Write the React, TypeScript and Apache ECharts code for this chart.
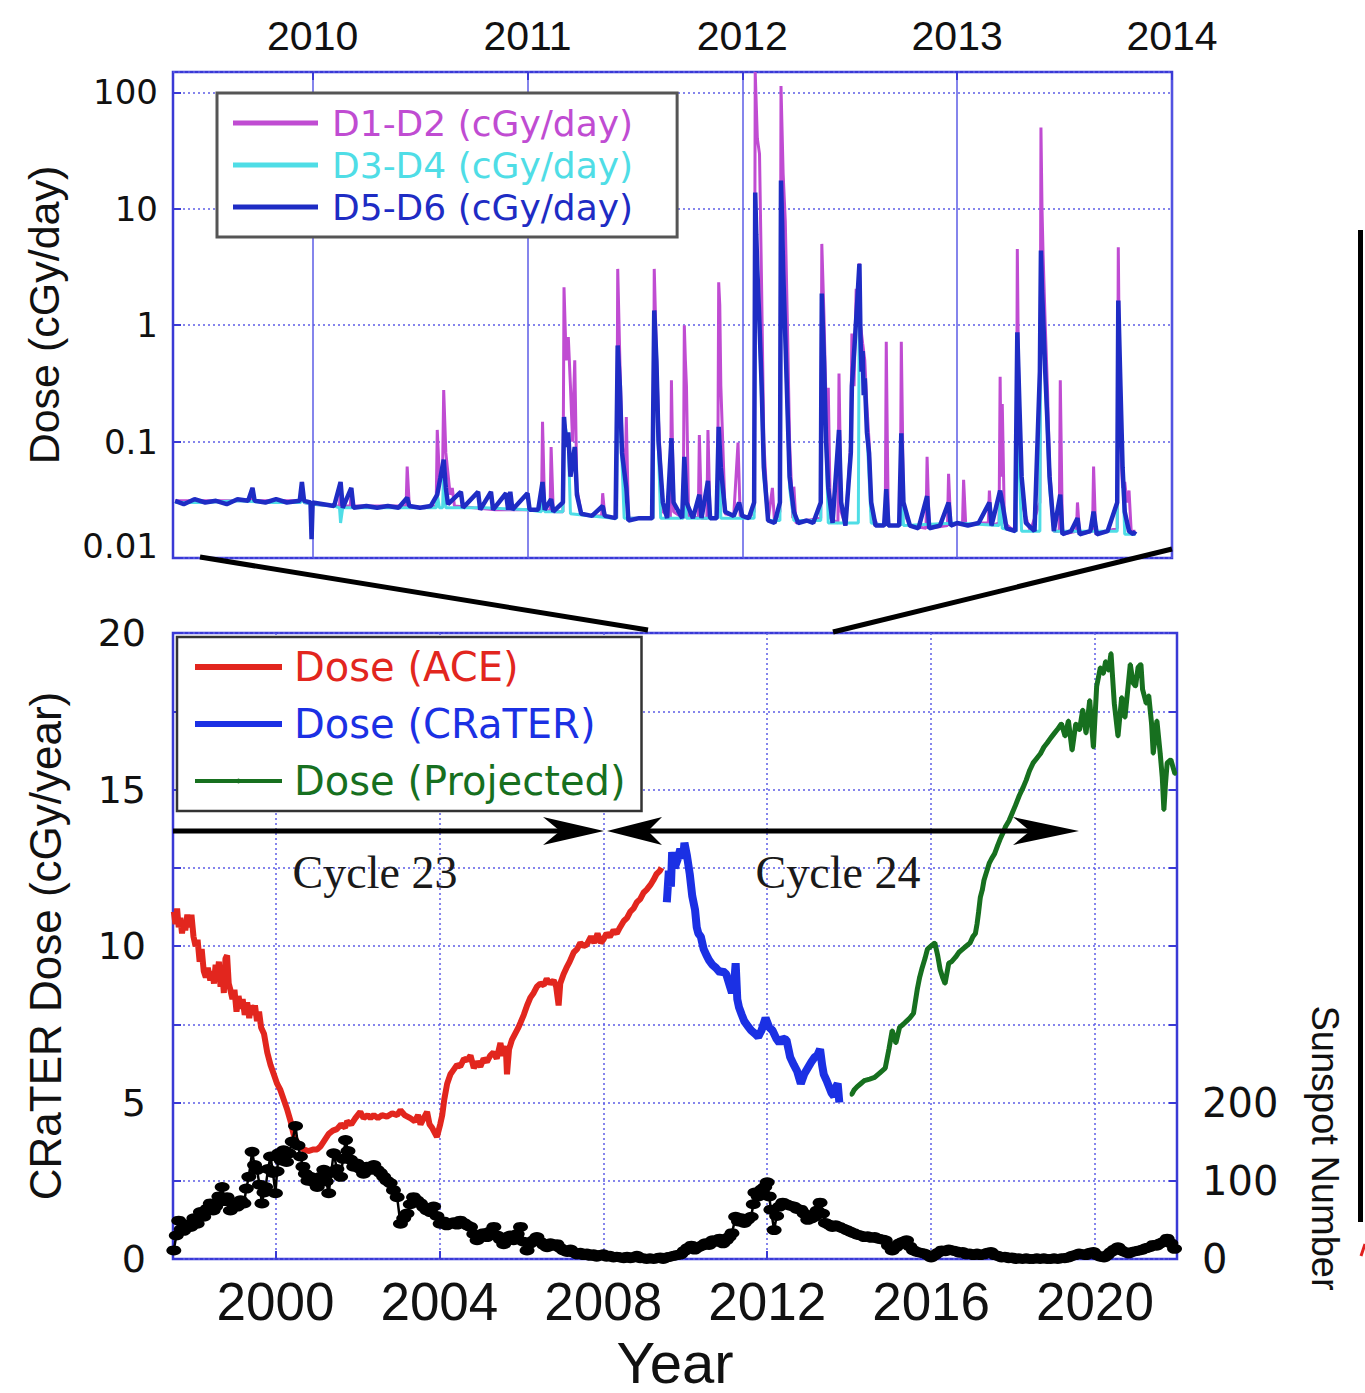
import React, { useEffect, useRef } from 'react';
import * as echarts from 'echarts';

// ---------- tick labels ----------
const topYearTicks = [2010, 2011, 2012, 2013, 2014];
const bottomYearTicks = [2000, 2004, 2008, 2012, 2016, 2020];

// ---------- top panel: daily dose (cGy/day), [decimal year, value] ----------
const d12: [number, number][] = [
  [2009.36, 0.031], [2009.45, 0.031], [2009.55, 0.031], [2009.65, 0.031], [2009.715, 0.031], [2009.72, 0.04], [2009.73, 0.031], [2009.8, 0.031], [2009.9, 0.031], [2009.945, 0.031], [2009.95, 0.045], [2009.96, 0.03],
  [2010.0, 0.029], [2010.1, 0.028], [2010.125, 0.028], [2010.13, 0.042], [2010.14, 0.028], [2010.175, 0.028], [2010.18, 0.038], [2010.19, 0.028], [2010.25, 0.028], [2010.35, 0.028],
  [2010.435, 0.028], [2010.44, 0.061], [2010.45, 0.028], [2010.52, 0.027], [2010.575, 0.028], [2010.58, 0.126], [2010.59, 0.05], [2010.605, 0.06], [2010.61, 0.277], [2010.62, 0.08], [2010.64, 0.035], [2010.65, 0.04], [2010.66, 0.028],
  [2010.75, 0.027], [2010.85, 0.026], [2010.95, 0.026], [2011.0, 0.026], [2011.065, 0.026], [2011.07, 0.148], [2011.08, 0.026], [2011.105, 0.025], [2011.11, 0.09], [2011.12, 0.025],
  [2011.165, 0.025], [2011.17, 2.12], [2011.18, 0.5], [2011.19, 0.79], [2011.2, 0.3], [2011.21, 0.1], [2011.215, 0.25], [2011.22, 0.5], [2011.23, 0.04], [2011.25, 0.024], [2011.3, 0.023],
  [2011.345, 0.023], [2011.35, 0.036], [2011.36, 0.023], [2011.415, 0.022], [2011.42, 3.05], [2011.43, 0.5], [2011.44, 0.1], [2011.455, 0.05], [2011.46, 0.163], [2011.47, 0.022], [2011.52, 0.022],
  [2011.585, 0.022], [2011.59, 3.05], [2011.6, 0.6], [2011.61, 0.15], [2011.63, 0.025], [2011.665, 0.022], [2011.67, 0.337], [2011.68, 0.025], [2011.725, 0.022], [2011.73, 1.0], [2011.735, 0.5], [2011.74, 0.3], [2011.75, 0.023],
  [2011.795, 0.022], [2011.8, 0.114], [2011.81, 0.022], [2011.835, 0.022], [2011.84, 0.126], [2011.85, 0.022], [2011.885, 0.022], [2011.89, 2.34], [2011.895, 1.5], [2011.9, 0.3], [2011.92, 0.024], [2011.96, 0.023],
  [2011.98, 0.098], [2011.99, 0.023], [2012.03, 0.022], [2012.055, 0.025], [2012.06, 150], [2012.07, 40], [2012.08, 29.7], [2012.09, 2], [2012.1, 0.1], [2012.12, 0.021], [2012.14, 0.04], [2012.15, 0.02],
  [2012.175, 0.025], [2012.18, 113.6], [2012.19, 20], [2012.2, 7.9], [2012.21, 1], [2012.22, 0.1], [2012.235, 0.022], [2012.24, 0.041], [2012.25, 0.02], [2012.3, 0.021],
  [2012.365, 0.022], [2012.37, 5.0], [2012.38, 1.2], [2012.39, 0.2], [2012.395, 0.1], [2012.4, 0.29], [2012.41, 0.022], [2012.445, 0.02], [2012.45, 0.385], [2012.46, 0.025], [2012.48, 0.019],
  [2012.505, 0.1], [2012.51, 0.85], [2012.52, 0.3], [2012.53, 2.06], [2012.54, 1.5], [2012.545, 3.4], [2012.55, 1.0], [2012.56, 0.7], [2012.57, 0.5], [2012.58, 0.2], [2012.59, 0.1], [2012.6, 0.025], [2012.63, 0.019],
  [2012.665, 0.019], [2012.67, 0.72], [2012.675, 0.1], [2012.68, 0.019], [2012.735, 0.019], [2012.74, 0.72], [2012.745, 0.15], [2012.75, 0.025], [2012.78, 0.019], [2012.855, 0.018], [2012.86, 0.074], [2012.87, 0.018],
  [2012.955, 0.019], [2012.96, 0.053], [2012.97, 0.019], [2013.025, 0.02], [2013.03, 0.047], [2013.04, 0.019], [2013.1, 0.02], [2013.145, 0.02], [2013.15, 0.038], [2013.16, 0.019],
  [2013.195, 0.02], [2013.2, 0.36], [2013.205, 0.05], [2013.21, 0.21], [2013.22, 0.02], [2013.25, 0.018], [2013.275, 0.017], [2013.28, 4.53], [2013.285, 0.5], [2013.29, 0.17], [2013.3, 0.03], [2013.34, 0.017],
  [2013.385, 0.03], [2013.39, 49.9], [2013.395, 10], [2013.4, 4.0], [2013.41, 1.0], [2013.42, 0.3], [2013.43, 0.06], [2013.45, 0.017], [2013.475, 0.017], [2013.48, 0.337], [2013.49, 0.016],
  [2013.555, 0.017], [2013.56, 0.03], [2013.57, 0.016], [2013.63, 0.017], [2013.635, 0.061], [2013.645, 0.016], [2013.7, 0.017], [2013.745, 0.018], [2013.75, 4.68], [2013.755, 0.5], [2013.76, 0.1],
  [2013.77, 0.04], [2013.78, 0.045], [2013.79, 0.03], [2013.8, 0.038], [2013.81, 0.017], [2013.83, 0.017],
];

const d34: [number, number][] = [
  [2009.36, 0.03], [2009.5, 0.03], [2009.65, 0.031], [2009.8, 0.03], [2009.945, 0.03], [2009.95, 0.04], [2009.96, 0.03], [2010.0, 0.029], [2010.1, 0.028], [2010.125, 0.027], [2010.13, 0.02], [2010.14, 0.027],
  [2010.3, 0.027], [2010.575, 0.027], [2010.58, 0.035], [2010.59, 0.027], [2010.605, 0.027], [2010.61, 0.06], [2010.62, 0.027], [2010.8, 0.027], [2011.0, 0.026], [2011.065, 0.025], [2011.07, 0.04], [2011.08, 0.025],
  [2011.165, 0.025], [2011.17, 0.15], [2011.19, 0.1], [2011.2, 0.024], [2011.3, 0.023], [2011.4, 0.022], [2011.415, 0.022], [2011.42, 0.6], [2011.43, 0.2], [2011.45, 0.022], [2011.585, 0.022], [2011.59, 1.2], [2011.6, 0.3],
  [2011.62, 0.022], [2011.725, 0.022], [2011.73, 0.07], [2011.74, 0.022], [2011.885, 0.022], [2011.89, 0.12], [2011.9, 0.022], [2012.055, 0.022], [2012.06, 12], [2012.07, 2.5], [2012.08, 0.9], [2012.1, 0.05], [2012.12, 0.021],
  [2012.175, 0.021], [2012.18, 15], [2012.19, 2.5], [2012.2, 0.7], [2012.22, 0.04], [2012.24, 0.021], [2012.365, 0.021], [2012.37, 1.7], [2012.38, 0.4], [2012.4, 0.02], [2012.54, 0.02], [2012.545, 3.0],
  [2012.55, 0.7], [2012.57, 0.3], [2012.6, 0.02], [2012.665, 0.019], [2012.67, 0.035], [2012.68, 0.019], [2012.735, 0.019], [2012.74, 0.1], [2012.75, 0.019], [2013.0, 0.02], [2013.195, 0.019], [2013.2, 0.035],
  [2013.21, 0.018], [2013.275, 0.017], [2013.28, 0.8], [2013.29, 0.05], [2013.3, 0.017], [2013.385, 0.017], [2013.39, 4.0], [2013.4, 1.0], [2013.41, 0.35], [2013.43, 0.04], [2013.45, 0.017], [2013.6, 0.017],
  [2013.745, 0.017], [2013.75, 1.5], [2013.76, 0.2], [2013.78, 0.016], [2013.83, 0.016],
];

const d56: [number, number][] = [
  [2009.36, 0.031], [2009.4, 0.029], [2009.45, 0.032], [2009.5, 0.03], [2009.55, 0.031], [2009.6, 0.029], [2009.65, 0.032], [2009.7, 0.031], [2009.72, 0.04], [2009.73, 0.031], [2009.78, 0.03], [2009.83, 0.032],
  [2009.88, 0.03], [2009.94, 0.031], [2009.95, 0.045], [2009.96, 0.031], [2009.99, 0.03], [2009.995, 0.0145], [2010.0, 0.03], [2010.05, 0.029], [2010.1, 0.028], [2010.13, 0.045], [2010.14, 0.027],
  [2010.18, 0.04], [2010.19, 0.027], [2010.25, 0.028], [2010.3, 0.027], [2010.35, 0.028], [2010.4, 0.027], [2010.44, 0.033], [2010.45, 0.028], [2010.5, 0.027], [2010.55, 0.028], [2010.58, 0.035],
  [2010.61, 0.07], [2010.62, 0.04], [2010.63, 0.029], [2010.69, 0.037], [2010.7, 0.027], [2010.77, 0.037], [2010.78, 0.026], [2010.83, 0.037], [2010.84, 0.026], [2010.9, 0.036], [2010.91, 0.026],
  [2010.92, 0.037], [2010.93, 0.026], [2011.0, 0.036], [2011.01, 0.026], [2011.05, 0.026], [2011.07, 0.045], [2011.08, 0.026], [2011.11, 0.032], [2011.12, 0.025], [2011.165, 0.03], [2011.17, 0.163],
  [2011.18, 0.09], [2011.19, 0.12], [2011.2, 0.05], [2011.22, 0.09], [2011.23, 0.035], [2011.25, 0.024], [2011.3, 0.023], [2011.35, 0.028], [2011.36, 0.023], [2011.41, 0.022], [2011.42, 0.67],
  [2011.43, 0.3], [2011.44, 0.08], [2011.46, 0.04], [2011.47, 0.021], [2011.52, 0.022], [2011.58, 0.022], [2011.59, 1.34], [2011.6, 0.5], [2011.61, 0.1], [2011.63, 0.03], [2011.65, 0.022],
  [2011.67, 0.107], [2011.68, 0.03], [2011.72, 0.022], [2011.73, 0.074], [2011.74, 0.03], [2011.77, 0.022], [2011.8, 0.035], [2011.81, 0.022], [2011.84, 0.046], [2011.85, 0.022], [2011.88, 0.022],
  [2011.89, 0.134], [2011.9, 0.06], [2011.92, 0.025], [2011.96, 0.023], [2011.985, 0.03], [2012.0, 0.023], [2012.03, 0.022], [2012.055, 0.03], [2012.06, 13.8], [2012.065, 6], [2012.07, 3.0],
  [2012.08, 1.0], [2012.09, 0.3], [2012.1, 0.06], [2012.12, 0.021], [2012.15, 0.02], [2012.175, 0.03], [2012.18, 17.5], [2012.185, 8], [2012.19, 3.0], [2012.2, 0.8], [2012.21, 0.2], [2012.22, 0.05],
  [2012.24, 0.025], [2012.26, 0.02], [2012.3, 0.021], [2012.33, 0.02], [2012.365, 0.03], [2012.37, 1.87], [2012.38, 0.5], [2012.39, 0.1], [2012.4, 0.04], [2012.42, 0.02], [2012.45, 0.126],
  [2012.46, 0.03], [2012.48, 0.019], [2012.505, 0.08], [2012.51, 0.3], [2012.525, 0.8], [2012.535, 1.6], [2012.545, 3.37], [2012.55, 0.8], [2012.555, 0.4], [2012.56, 0.6], [2012.565, 0.25],
  [2012.57, 0.35], [2012.58, 0.12], [2012.59, 0.08], [2012.6, 0.03], [2012.62, 0.019], [2012.66, 0.019], [2012.67, 0.039], [2012.68, 0.019], [2012.73, 0.019], [2012.74, 0.118], [2012.75, 0.03],
  [2012.78, 0.019], [2012.82, 0.018], [2012.86, 0.034], [2012.87, 0.018], [2012.92, 0.019], [2012.96, 0.03], [2012.97, 0.019], [2013.0, 0.02], [2013.05, 0.019], [2013.1, 0.02], [2013.15, 0.03],
  [2013.16, 0.019], [2013.2, 0.038], [2013.21, 0.03], [2013.23, 0.018], [2013.27, 0.017], [2013.28, 0.87], [2013.29, 0.2], [2013.3, 0.05], [2013.32, 0.02], [2013.36, 0.017], [2013.385, 0.4],
  [2013.39, 4.38], [2013.395, 2.0], [2013.4, 1.2], [2013.41, 0.4], [2013.42, 0.15], [2013.43, 0.05], [2013.45, 0.017], [2013.48, 0.035], [2013.49, 0.016], [2013.53, 0.017], [2013.56, 0.022],
  [2013.57, 0.016], [2013.62, 0.017], [2013.635, 0.025], [2013.65, 0.016], [2013.7, 0.017], [2013.745, 0.03], [2013.75, 1.63], [2013.76, 0.3], [2013.77, 0.06], [2013.78, 0.025], [2013.8, 0.017],
  [2013.82, 0.016], [2013.83, 0.017],
];

// ---------- bottom panel: yearly dose (cGy/year) ----------
const aceDose: [number, number][] = [
  [1997.52, 11.1], [1997.56, 10.7], [1997.6, 11.2], [1997.64, 10.6], [1997.68, 10.9], [1997.72, 10.4], [1997.76, 10.8], [1997.8, 10.5], [1997.85, 11.0], [1997.9, 10.6], [1997.95, 11.0], [1998.0, 10.3],
  [1998.05, 10.0], [1998.1, 10.2], [1998.15, 9.5], [1998.2, 9.9], [1998.25, 9.2], [1998.3, 9.0], [1998.35, 9.3], [1998.41, 8.9], [1998.46, 9.2], [1998.5, 8.8], [1998.54, 9.4], [1998.58, 9.0],
  [1998.62, 9.5], [1998.66, 8.7], [1998.7, 9.3], [1998.74, 8.5], [1998.78, 9.6], [1998.82, 9.7], [1998.86, 8.8], [1998.9, 8.6], [1998.95, 8.3], [1999.0, 8.6], [1999.05, 7.9], [1999.1, 8.4],
  [1999.15, 8.0], [1999.2, 8.3], [1999.25, 7.8], [1999.31, 8.2], [1999.36, 7.7], [1999.4, 8.1], [1999.45, 7.8], [1999.5, 8.1], [1999.55, 7.6], [1999.6, 7.9], [1999.65, 7.4], [1999.72, 7.2],
  [1999.8, 6.6], [1999.88, 6.2], [1999.96, 5.9], [2000.04, 5.6], [2000.12, 5.4], [2000.2, 5.1], [2000.28, 4.8], [2000.37, 4.4], [2000.44, 4.0], [2000.5, 3.8], [2000.58, 3.6], [2000.69, 3.5],
  [2000.8, 3.45], [2000.93, 3.5], [2001.02, 3.5], [2001.1, 3.6], [2001.2, 3.8], [2001.3, 4.0], [2001.4, 4.1], [2001.5, 4.15], [2001.6, 4.3], [2001.7, 4.2], [2001.75, 4.4], [2001.85, 4.3],
  [2001.95, 4.5], [2002.07, 4.7], [2002.15, 4.5], [2002.25, 4.6], [2002.32, 4.5], [2002.4, 4.6], [2002.5, 4.5], [2002.6, 4.6], [2002.72, 4.55], [2002.85, 4.65], [2002.97, 4.6], [2003.05, 4.75],
  [2003.15, 4.6], [2003.29, 4.5], [2003.4, 4.4], [2003.48, 4.6], [2003.54, 4.3], [2003.62, 4.5], [2003.7, 4.7], [2003.76, 4.3], [2003.82, 4.2], [2003.94, 3.9], [2004.02, 4.3], [2004.07, 4.6],
  [2004.12, 5.1], [2004.19, 5.6], [2004.27, 5.9], [2004.35, 6.05], [2004.43, 6.2], [2004.51, 6.15], [2004.6, 6.4], [2004.68, 6.35], [2004.76, 6.5], [2004.84, 6.1], [2004.92, 6.3], [2005.0, 6.15],
  [2005.08, 6.4], [2005.16, 6.3], [2005.24, 6.5], [2005.32, 6.6], [2005.4, 6.4], [2005.49, 6.9], [2005.55, 6.5], [2005.62, 6.8], [2005.65, 5.9], [2005.7, 6.7], [2005.77, 7.0], [2005.85, 7.2],
  [2005.93, 7.4], [2005.98, 7.55], [2006.06, 7.8], [2006.14, 8.1], [2006.22, 8.35], [2006.3, 8.5], [2006.38, 8.7], [2006.46, 8.8], [2006.55, 8.75], [2006.62, 8.95], [2006.7, 8.8], [2006.79, 8.9],
  [2006.85, 8.7], [2006.91, 8.1], [2006.95, 8.8], [2007.03, 9.1], [2007.1, 9.3], [2007.18, 9.5], [2007.28, 9.8], [2007.36, 9.9], [2007.44, 10.1], [2007.52, 10.0], [2007.6, 10.05], [2007.7, 10.3],
  [2007.78, 10.1], [2007.86, 10.4], [2007.94, 10.1], [2008.0, 10.2], [2008.08, 10.4], [2008.16, 10.3], [2008.25, 10.5], [2008.33, 10.4], [2008.41, 10.6], [2008.5, 10.8], [2008.58, 10.9],
  [2008.66, 11.1], [2008.74, 11.2], [2008.82, 11.4], [2008.9, 11.5], [2008.98, 11.7], [2009.06, 11.8], [2009.15, 11.95], [2009.22, 12.1], [2009.3, 12.3], [2009.38, 12.4], [2009.42, 12.5],
];

const craterDose: [number, number][] = [
  [2009.55, 11.4], [2009.6, 12.4], [2009.65, 11.9], [2009.68, 13.0], [2009.74, 12.5], [2009.81, 12.75], [2009.88, 13.1], [2009.95, 12.8], [2009.98, 13.3], [2010.04, 12.9], [2010.11, 12.3],
  [2010.17, 11.6], [2010.24, 11.15], [2010.28, 10.6], [2010.32, 10.4], [2010.38, 10.3], [2010.45, 9.9], [2010.52, 9.7], [2010.58, 9.55], [2010.66, 9.4], [2010.75, 9.3], [2010.85, 9.15],
  [2010.92, 9.2], [2011.0, 9.1], [2011.07, 8.8], [2011.14, 8.5], [2011.2, 8.9], [2011.23, 9.45], [2011.27, 8.3], [2011.31, 8.05], [2011.38, 7.8], [2011.44, 7.6], [2011.52, 7.45], [2011.61, 7.3],
  [2011.7, 7.2], [2011.78, 7.1], [2011.86, 7.3], [2011.96, 7.7], [2012.05, 7.4], [2012.13, 7.3], [2012.22, 7.05], [2012.3, 6.9], [2012.38, 7.05], [2012.47, 7.0], [2012.52, 6.7], [2012.56, 6.45],
  [2012.65, 6.2], [2012.73, 6.0], [2012.82, 5.6], [2012.9, 5.9], [2012.99, 6.1], [2013.08, 6.3], [2013.16, 6.45], [2013.22, 6.5], [2013.29, 6.7], [2013.34, 6.2], [2013.38, 5.9], [2013.45, 5.7],
  [2013.51, 5.5], [2013.57, 5.3], [2013.63, 5.2], [2013.68, 5.5], [2013.72, 5.6], [2013.76, 5.0],
];

const projectedDose: [number, number][] = [
  [2014.06, 5.25], [2014.12, 5.4], [2014.19, 5.5], [2014.28, 5.6], [2014.37, 5.7], [2014.5, 5.75], [2014.62, 5.8], [2014.75, 5.95], [2014.88, 6.1], [2014.97, 6.7], [2015.05, 7.3], [2015.14, 6.9],
  [2015.23, 7.4], [2015.32, 7.5], [2015.4, 7.6], [2015.48, 7.7], [2015.57, 7.85], [2015.66, 8.6], [2015.72, 9.0], [2015.78, 9.3], [2015.85, 9.6], [2015.91, 9.9], [2016.0, 10.0], [2016.09, 10.1],
  [2016.16, 9.7], [2016.22, 9.25], [2016.28, 9.0], [2016.34, 8.8], [2016.43, 9.45], [2016.5, 9.5], [2016.6, 9.65], [2016.68, 9.8], [2016.77, 9.9], [2016.86, 10.0], [2016.95, 10.1], [2017.02, 10.3],
  [2017.08, 10.4], [2017.12, 10.7], [2017.16, 11.1], [2017.2, 11.55], [2017.25, 11.8], [2017.29, 12.1], [2017.36, 12.4], [2017.42, 12.65], [2017.48, 12.8], [2017.55, 12.95], [2017.62, 13.2],
  [2017.68, 13.4], [2017.75, 13.6], [2017.81, 13.8], [2017.9, 14.0], [2017.98, 14.25], [2018.06, 14.5], [2018.15, 14.8], [2018.24, 15.05], [2018.32, 15.3], [2018.4, 15.6], [2018.49, 15.85],
  [2018.58, 16.0], [2018.67, 16.15], [2018.75, 16.35], [2018.84, 16.5], [2018.92, 16.65], [2019.01, 16.8], [2019.1, 16.95], [2019.18, 17.1], [2019.27, 16.7], [2019.35, 17.2], [2019.44, 16.25],
  [2019.53, 17.1], [2019.62, 16.9], [2019.7, 17.55], [2019.78, 16.8], [2019.87, 17.85], [2019.96, 16.35], [2020.04, 18.3], [2020.13, 18.9], [2020.2, 18.7], [2020.26, 19.1], [2020.33, 18.8],
  [2020.39, 19.35], [2020.47, 17.75], [2020.56, 16.7], [2020.65, 17.95], [2020.73, 17.3], [2020.8, 18.2], [2020.86, 19.0], [2020.93, 18.4], [2020.99, 18.3], [2021.05, 18.9], [2021.12, 19.0],
  [2021.16, 18.2], [2021.25, 17.75], [2021.31, 18.0], [2021.38, 17.1], [2021.42, 16.15], [2021.51, 17.2], [2021.59, 16.15], [2021.64, 15.4], [2021.68, 14.35], [2021.72, 15.2], [2021.76, 15.85],
  [2021.85, 15.95], [2021.95, 15.5],
];

const sunspotNumber: [number, number][] = [
  [1997.52, 11], [1997.58, 30], [1997.64, 49], [1997.7, 38], [1997.76, 36], [1997.85, 44], [1997.93, 41], [1998.01, 52], [1998.09, 45], [1998.17, 60], [1998.25, 54], [1998.33, 64], [1998.41, 71],
  [1998.48, 62], [1998.54, 67], [1998.62, 80], [1998.7, 92], [1998.76, 74], [1998.82, 79], [1998.9, 62], [1998.98, 70], [1999.07, 67], [1999.15, 75], [1999.23, 71], [1999.29, 90], [1999.35, 105],
  [1999.43, 137], [1999.49, 120], [1999.55, 114], [1999.61, 95], [1999.67, 71], [1999.72, 85], [1999.76, 92], [1999.82, 115], [1999.88, 131], [1999.94, 110], [2000.0, 84], [2000.04, 112],
  [2000.08, 135], [2000.14, 126], [2000.2, 139], [2000.27, 124], [2000.33, 135], [2000.41, 150], [2000.49, 170], [2000.55, 145], [2000.61, 131], [2000.67, 118], [2000.73, 109], [2000.79, 100],
  [2000.85, 105], [2000.94, 98], [2001.02, 92], [2001.1, 105], [2001.18, 114], [2001.24, 99], [2001.3, 84], [2001.36, 110], [2001.42, 135], [2001.5, 115], [2001.59, 105], [2001.65, 128],
  [2001.71, 152], [2001.77, 138], [2001.83, 127], [2001.91, 118], [2001.99, 122], [2002.07, 115], [2002.15, 109], [2002.23, 118], [2002.32, 114], [2002.4, 120], [2002.48, 114], [2002.56, 110],
  [2002.64, 105], [2002.72, 100], [2002.8, 97], [2002.88, 88], [2002.97, 79], [2003.05, 45], [2003.13, 52], [2003.21, 58], [2003.29, 70], [2003.37, 79], [2003.45, 75], [2003.54, 71], [2003.62, 66],
  [2003.7, 62], [2003.78, 60], [2003.86, 67], [2003.94, 55], [2004.02, 45], [2004.1, 48], [2004.18, 43], [2004.27, 45], [2004.35, 47], [2004.43, 44], [2004.51, 49], [2004.6, 46], [2004.68, 43],
  [2004.76, 41], [2004.84, 32], [2004.92, 24], [2005.0, 30], [2005.08, 33], [2005.16, 28], [2005.24, 35], [2005.33, 41], [2005.41, 30], [2005.49, 25], [2005.57, 19], [2005.65, 28], [2005.73, 30],
  [2005.81, 24], [2005.9, 32], [2005.98, 41], [2006.06, 22], [2006.14, 11], [2006.22, 20], [2006.3, 24], [2006.38, 28], [2006.46, 22], [2006.55, 18], [2006.63, 15], [2006.71, 20], [2006.79, 17],
  [2006.87, 19], [2006.95, 14], [2007.03, 11], [2007.12, 9], [2007.2, 12], [2007.28, 8], [2007.36, 6], [2007.44, 8], [2007.52, 5], [2007.6, 7], [2007.68, 4], [2007.76, 6], [2007.84, 3], [2007.92, 5],
  [2008.0, 6], [2008.08, 3], [2008.16, 4], [2008.25, 2], [2008.33, 3], [2008.41, 2], [2008.5, 1], [2008.58, 3], [2008.66, 1], [2008.74, 2], [2008.82, 4], [2008.9, 1], [2008.98, 1], [2009.06, 0],
  [2009.14, 1], [2009.23, 0], [2009.31, 1], [2009.39, 2], [2009.46, 0], [2009.55, 2], [2009.63, 3], [2009.72, 4], [2009.8, 5], [2009.89, 6], [2009.97, 10], [2010.06, 14], [2010.15, 17], [2010.23, 12],
  [2010.32, 15], [2010.41, 17], [2010.49, 20], [2010.58, 18], [2010.67, 24], [2010.75, 22], [2010.84, 26], [2010.92, 20], [2011.0, 24], [2011.07, 28], [2011.14, 33], [2011.23, 54], [2011.3, 48],
  [2011.37, 52], [2011.44, 46], [2011.52, 50], [2011.61, 54], [2011.66, 70], [2011.7, 85], [2011.78, 80], [2011.87, 89], [2011.94, 92], [2012.0, 98], [2012.05, 80], [2012.09, 63], [2012.17, 37],
  [2012.23, 55], [2012.3, 67], [2012.38, 72], [2012.47, 70], [2012.56, 68], [2012.65, 67], [2012.73, 64], [2012.82, 63], [2012.9, 58], [2012.99, 50], [2013.08, 52], [2013.16, 54], [2013.22, 62],
  [2013.29, 72], [2013.35, 58], [2013.42, 46], [2013.5, 44], [2013.59, 41], [2013.67, 43], [2013.76, 41], [2013.85, 39], [2013.94, 37], [2014.02, 35], [2014.11, 33], [2014.2, 31], [2014.28, 30],
  [2014.37, 28], [2014.45, 29], [2014.54, 27], [2014.62, 28], [2014.71, 26], [2014.8, 25], [2014.88, 24], [2014.96, 17], [2015.05, 11], [2015.14, 15], [2015.23, 20], [2015.31, 22], [2015.4, 24],
  [2015.48, 16], [2015.57, 11], [2015.66, 9], [2015.74, 8], [2015.83, 7], [2015.91, 5], [2016.0, 2], [2016.09, 5], [2016.17, 8], [2016.26, 11], [2016.35, 10], [2016.43, 12], [2016.52, 11],
  [2016.6, 10], [2016.69, 8], [2016.77, 9], [2016.86, 6], [2016.94, 7], [2017.03, 5], [2017.12, 7], [2017.2, 5], [2017.29, 6], [2017.37, 8], [2017.46, 9], [2017.55, 5], [2017.63, 4], [2017.72, 2],
  [2017.8, 3], [2017.89, 1], [2017.97, 2], [2018.06, 0], [2018.14, 1], [2018.23, 0], [2018.32, 1], [2018.4, 0], [2018.49, 0], [2018.58, 1], [2018.66, 0], [2018.75, 1], [2018.83, 0], [2018.92, 0],
  [2019.0, 1], [2019.09, 0], [2019.18, 1], [2019.26, 1], [2019.35, 2], [2019.44, 4], [2019.52, 5], [2019.61, 7], [2019.7, 6], [2019.78, 5], [2019.87, 8], [2019.96, 9], [2020.04, 5], [2020.13, 3],
  [2020.22, 2], [2020.3, 5], [2020.39, 9], [2020.47, 12], [2020.56, 15], [2020.64, 11], [2020.73, 9], [2020.82, 7], [2020.9, 9], [2020.99, 10], [2021.08, 11], [2021.16, 12], [2021.25, 14],
  [2021.33, 15], [2021.42, 18], [2021.5, 17], [2021.59, 20], [2021.68, 22], [2021.76, 26], [2021.85, 20], [2021.94, 13],
];

// ---------- styles ----------
const SANS = '"Liberation Sans", Arial, sans-serif';
const WIDE = '"DejaVu Sans", sans-serif';
const SERIF = '"Liberation Serif", "Times New Roman", serif';
const FRAME = '#3a3ad6';
const GRIDC = '#5d5de6';
const MAG = '#c04cd2';
const CYAN = '#4fdde6';
const DBLUE = '#1e2cc4';
const RED = '#e2261e';
const CBLUE = '#1b30e4';
const GREEN = '#17701f';
const TXT = '#111';

const dotted = { color: GRIDC, width: 1.5, type: [2, 3] as any };

export default function App() {
  const ref = useRef<HTMLDivElement>(null);
  useEffect(() => {
    document.body.style.margin = '0';
    const chart = echarts.init(ref.current!, null, { renderer: 'svg' });
    const option: any = {
      animation: false,
      backgroundColor: '#fff',
      grid: [
        { left: 173, top: 72, width: 999, height: 486, show: true, borderColor: FRAME, borderWidth: 2.5, outerBoundsMode: 'none' },
        { left: 173, top: 633, width: 1004, height: 626, show: true, borderColor: FRAME, borderWidth: 2.5, outerBoundsMode: 'none' },
      ],
      xAxis: [
        {
          type: 'value', gridIndex: 0, position: 'top', min: 2009.35, max: 2014.0,
          axisLine: { show: false },
          axisTick: { show: true, inside: true, length: 8, customValues: topYearTicks, lineStyle: { color: FRAME, width: 2 } },
          axisLabel: { customValues: topYearTicks, fontSize: 41, fontFamily: SANS, color: TXT, margin: 16, formatter: (v: number) => String(v) },
          splitLine: { show: true, lineStyle: { color: GRIDC, width: 1.5, type: 'solid' } },
        },
        {
          type: 'value', gridIndex: 1, min: 1997.5, max: 2022,
          name: 'Year', nameLocation: 'middle', nameGap: 74,
          nameTextStyle: { fontSize: 58, lineHeight: 58, fontFamily: SANS, color: TXT },
          axisLine: { show: false },
          axisTick: { show: true, inside: true, length: 8, customValues: bottomYearTicks, lineStyle: { color: FRAME, width: 2 } },
          axisLabel: { customValues: bottomYearTicks, fontSize: 53, fontFamily: SANS, color: TXT, margin: 16, formatter: (v: number) => String(v) },
          splitLine: { show: true, lineStyle: dotted },
        },
      ],
      yAxis: [
        {
          type: 'log', gridIndex: 0, logBase: 10, min: 0.01, max: 150,
          name: 'Dose (cGy/day)', nameLocation: 'middle', nameRotate: 90, nameGap: 108,
          nameTextStyle: { fontSize: 43, fontFamily: SANS, color: TXT },
          axisLine: { show: false },
          axisTick: { show: true, inside: true, length: 8, lineStyle: { color: FRAME, width: 2 } },
          axisLabel: {
            fontSize: 34, fontFamily: WIDE, color: TXT, margin: 15, showMaxLabel: false,
            formatter: (v: number) => {
              const s = v >= 1 ? String(Math.round(v)) : String(parseFloat(v.toPrecision(1)));
              return v < 0.02 ? '{low|' + s + '}' : s;
            },
            rich: { low: { fontSize: 34, fontFamily: WIDE, color: TXT, padding: [0, 0, 24, 0] } },
          },
          splitLine: { show: true, lineStyle: dotted },
        },
        {
          type: 'value', gridIndex: 1, min: 0, max: 20, interval: 2.5,
          name: 'CRaTER Dose (cGy/year)', nameLocation: 'middle', nameRotate: 90, nameGap: 106,
          nameTextStyle: { fontSize: 44, fontFamily: SANS, color: TXT },
          axisLine: { show: false },
          axisTick: { show: true, inside: true, length: 8, lineStyle: { color: FRAME, width: 2 } },
          axisLabel: { fontSize: 38, fontFamily: WIDE, color: TXT, margin: 27, formatter: (v: number) => (v % 5 === 0 ? String(v) : '') },
          splitLine: { show: true, lineStyle: dotted },
        },
        {
          type: 'value', gridIndex: 1, position: 'right', min: 0, max: 800, interval: 100,
          axisLine: { show: false },
          axisTick: { show: true, inside: true, length: 8, lineStyle: { color: FRAME, width: 2 } },
          axisLabel: { fontSize: 40, fontFamily: WIDE, color: TXT, margin: 25, formatter: (v: number) => (v <= 200 ? String(v) : '') },
          splitLine: { show: false },
        },
      ],
      legend: [
        {
          orient: 'vertical', left: 217, top: 93, padding: [12, 44, 12, 16], itemGap: 6,
          itemWidth: 85, itemHeight: 5, backgroundColor: '#fff', borderColor: '#555', borderWidth: 3,
          selectedMode: false,
          textStyle: { fontSize: 36, lineHeight: 36, fontFamily: WIDE, padding: [0, 0, 0, 9] },
          data: [
            { name: 'D1-D2 (cGy/day)', icon: 'rect', textStyle: { color: MAG } },
            { name: 'D3-D4 (cGy/day)', icon: 'rect', textStyle: { color: CYAN } },
            { name: 'D5-D6 (cGy/day)', icon: 'rect', textStyle: { color: DBLUE } },
          ],
        },
        {
          orient: 'vertical', left: 177, top: 637, padding: [10, 16, 10, 16], itemGap: 17,
          itemWidth: 87, itemHeight: 6, backgroundColor: '#fff', borderColor: '#333', borderWidth: 2.5,
          selectedMode: false, lineStyle: { width: 4 },
          textStyle: { fontSize: 40, lineHeight: 40, fontFamily: WIDE, padding: [0, 0, 0, 7] },
          data: [
            { name: 'Dose (ACE)', icon: 'rect', itemStyle: { color: RED }, textStyle: { color: RED } },
            { name: 'Dose (CRaTER)', icon: 'rect', itemStyle: { color: CBLUE }, textStyle: { color: CBLUE } },
            { name: 'Dose (Projected)', textStyle: { color: GREEN } },
          ],
        },
      ],
      series: [
        { name: 'D1-D2 (cGy/day)', type: 'line', xAxisIndex: 0, yAxisIndex: 0, data: d12, symbol: 'none', lineStyle: { color: MAG, width: 3 }, itemStyle: { color: MAG }, z: 3 },
        { name: 'D3-D4 (cGy/day)', type: 'line', xAxisIndex: 0, yAxisIndex: 0, data: d34, symbol: 'none', lineStyle: { color: CYAN, width: 3 }, itemStyle: { color: CYAN }, z: 4 },
        { name: 'D5-D6 (cGy/day)', type: 'line', xAxisIndex: 0, yAxisIndex: 0, data: d56, symbol: 'none', lineStyle: { color: DBLUE, width: 4.5 }, itemStyle: { color: DBLUE }, z: 5 },
        { name: 'Dose (ACE)', type: 'line', xAxisIndex: 1, yAxisIndex: 1, data: aceDose, symbol: 'none', lineStyle: { color: RED, width: 6 }, itemStyle: { color: RED }, z: 3 },
        { name: 'Dose (CRaTER)', type: 'line', xAxisIndex: 1, yAxisIndex: 1, data: craterDose, symbol: 'none', lineStyle: { color: CBLUE, width: 8 }, itemStyle: { color: CBLUE }, z: 3 },
        { name: 'Dose (Projected)', type: 'line', xAxisIndex: 1, yAxisIndex: 1, data: projectedDose, symbol: 'circle', symbolSize: 4, showSymbol: true, showAllSymbol: true, lineStyle: { color: GREEN, width: 5 }, itemStyle: { color: GREEN }, z: 3 },
        { name: 'Sunspot Number', type: 'line', xAxisIndex: 1, yAxisIndex: 2, data: sunspotNumber, symbol: 'circle', symbolSize: [15, 10], showSymbol: true, showAllSymbol: true, lineStyle: { color: '#000', width: 2.5 }, itemStyle: { color: '#000' }, z: 4 },
      ],
      graphic: [
        { type: 'line', shape: { x1: 200, y1: 557, x2: 648, y2: 630 }, style: { stroke: '#000', lineWidth: 5 }, z: 50 },
        { type: 'line', shape: { x1: 1172, y1: 549, x2: 833, y2: 632 }, style: { stroke: '#000', lineWidth: 5 }, z: 50 },
        { type: 'line', shape: { x1: 173, y1: 831, x2: 560, y2: 831 }, style: { stroke: '#000', lineWidth: 5 }, z: 50 },
        { type: 'polygon', shape: { points: [[604, 831], [543, 817], [560, 831], [543, 845]] }, style: { fill: '#000' }, z: 50 },
        { type: 'line', shape: { x1: 648, y1: 831, x2: 1030, y2: 831 }, style: { stroke: '#000', lineWidth: 5 }, z: 50 },
        { type: 'polygon', shape: { points: [[607, 831], [662, 817], [648, 831], [662, 845]] }, style: { fill: '#000' }, z: 50 },
        { type: 'polygon', shape: { points: [[1079, 831], [1013, 817], [1030, 831], [1013, 845]] }, style: { fill: '#000' }, z: 50 },
        { type: 'text', x: 375, y: 872, style: { text: 'Cycle 23', fontSize: 46, fontFamily: SERIF, fill: '#1a1a1a', align: 'center', verticalAlign: 'middle' }, z: 50 },
        { type: 'text', x: 838, y: 872, style: { text: 'Cycle 24', fontSize: 46, fontFamily: SERIF, fill: '#1a1a1a', align: 'center', verticalAlign: 'middle' }, z: 50 },
        { type: 'text', x: 1325, y: 1148, rotation: -Math.PI / 2, style: { text: 'Sunspot Number', fontSize: 38, fontFamily: SANS, fill: TXT, align: 'center', verticalAlign: 'middle' }, z: 50 },
        { type: 'rect', shape: { x: 1358, y: 230, width: 5, height: 992 }, style: { fill: '#000' }, z: 50 },
        { type: 'line', shape: { x1: 1361, y1: 1256, x2: 1365, y2: 1244 }, style: { stroke: '#e02020', lineWidth: 3 }, z: 50 },
      ],
    };
    chart.setOption(option);
    return () => chart.dispose();
  }, []);
  return <div ref={ref} style={{ width: 1365, height: 1393 }} />;
}
